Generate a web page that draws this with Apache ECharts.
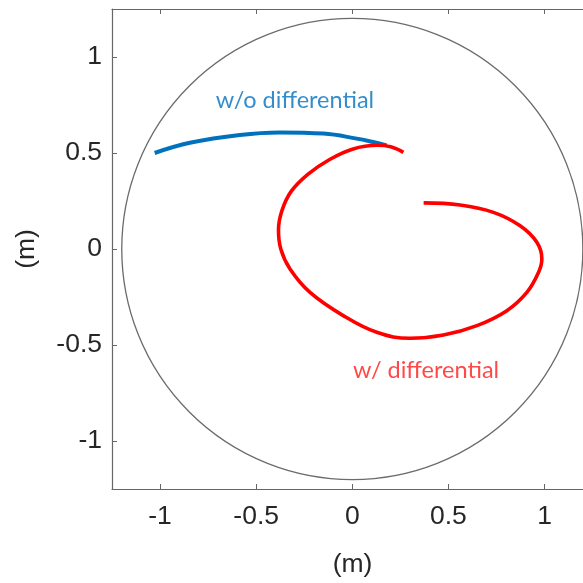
<!DOCTYPE html>
<html><head><meta charset="utf-8">
<script src="https://cdn.jsdelivr.net/npm/echarts@6/dist/echarts.min.js"></script>
<style>html,body{margin:0;padding:0;background:#fff}#c{width:583px;height:583px}</style>
</head><body><div id="c"></div>
<script>
// Tick labels
const xTicks = [-1, -0.5, 0, 0.5, 1];
const yTicks = [-1, -0.5, 0, 0.5, 1];
// Trajectory without differential (x, y in m)
const bluePath = [
  [-1.028, 0.500], [-0.845, 0.553], [-0.585, 0.594], [-0.377, 0.607],
  [-0.150, 0.601], [0.023, 0.575], [0.109, 0.557], [0.179, 0.540]
];
// Trajectory with differential (x, y in m)
const redPath = [
  [0.371, 0.240], [0.561, 0.229], [0.734, 0.191], [0.873, 0.121],
  [0.960, 0.035], [0.986, -0.052], [0.969, -0.121], [0.908, -0.226],
  [0.804, -0.321], [0.648, -0.399], [0.474, -0.448], [0.300, -0.465],
  [0.127, -0.434], [-0.047, -0.347], [-0.220, -0.226], [-0.324, -0.104],
  [-0.372, 0.000], [-0.384, 0.100], [-0.366, 0.200], [-0.318, 0.300],
  [-0.230, 0.390], [-0.120, 0.465], [0.000, 0.520], [0.130, 0.540],
  [0.200, 0.532], [0.266, 0.503]
];
// Boundary circle: centre x, centre y, radius (m)
const boundary = [[0, 0, 1.2]];
// Origin marker
const origin = [[0, 0]];
// Annotations: x, y, text, colour
const annotations = [
  [-0.298, 0.776, 'w/o differential', '#0070C0'],
  [0.384, -0.635, 'w/ differential', '#FF1A1A']
];

const axisColor = '#666';
const labelFont = {fontFamily: 'Liberation Sans, Arial, sans-serif', fontSize: 26.5, color: '#262626'};

const chart = echarts.init(document.getElementById('c'), null, {renderer: 'canvas'});
chart.setOption({
  animation: false,
  backgroundColor: '#fff',
  grid: {left: 112, right: 0, top: 9, bottom: 93, containLabel: false},
  xAxis: [{
    type: 'value', min: -1.25, max: 1.2, position: 'bottom',
    axisLine: {show: true, onZero: false, lineStyle: {color: axisColor, width: 1.2}},
    axisTick: {show: true, inside: true, length: 5, customValues: xTicks, lineStyle: {color: axisColor}},
    axisLabel: Object.assign({margin: 14, customValues: xTicks}, labelFont),
    splitLine: {show: false},
    name: '(m)', nameLocation: 'middle', nameGap: 62,
    nameTextStyle: Object.assign({padding: [0, 0, 0, 10]}, labelFont)
  }, {
    type: 'value', min: -1.25, max: 1.2, position: 'top',
    axisLine: {show: true, onZero: false, lineStyle: {color: axisColor, width: 1.2}},
    axisTick: {show: true, inside: true, length: 5, customValues: xTicks, lineStyle: {color: axisColor}},
    axisLabel: {show: false},
    splitLine: {show: false}
  }],
  yAxis: [{
    type: 'value', min: -1.25, max: 1.25, position: 'left',
    axisLine: {show: true, onZero: false, lineStyle: {color: axisColor, width: 1.2}},
    axisTick: {show: true, inside: true, length: 5, customValues: yTicks, lineStyle: {color: axisColor}},
    axisLabel: Object.assign({margin: 10, customValues: yTicks}, labelFont),
    splitLine: {show: false},
    name: '(m)', nameLocation: 'middle', nameGap: 72, nameRotate: 90,
    nameTextStyle: labelFont
  }],
  series: [
    {
      type: 'custom', xAxisIndex: 0, yAxisIndex: 0, data: boundary, clip: false,
      renderItem: function (params, api) {
        const c = api.coord([api.value(0), api.value(1)]);
        const s = api.size([api.value(2), api.value(2)]);
        return {type: 'circle', shape: {cx: c[0], cy: c[1], r: (s[0] + s[1]) / 2},
          style: {fill: 'none', stroke: '#6b6b6b', lineWidth: 1.3}};
      },
      silent: true, z: 1
    },
    {
      type: 'line', data: bluePath, smooth: 0.4, showSymbol: false,
      lineStyle: {color: '#0072BD', width: 4}, z: 3
    },
    {
      type: 'line', data: redPath, smooth: 0.4, showSymbol: false,
      lineStyle: {color: '#FF0000', width: 3.6}, z: 4
    },
    {
      type: 'scatter', data: origin, symbol: 'emptyCircle', symbolSize: 11,
      itemStyle: {color: '#fff', borderColor: '#333', borderWidth: 1.5}, z: 5
    },
    {
      type: 'scatter', symbolSize: 0, z: 6,
      data: annotations.map(a => ({value: [a[0], a[1]], label: {show: true, position: 'inside',
        formatter: a[2], color: a[3], fontFamily: 'Lato, Open Sans, sans-serif', fontSize: 23.5}}))
    }
  ]
});
</script></body></html>
